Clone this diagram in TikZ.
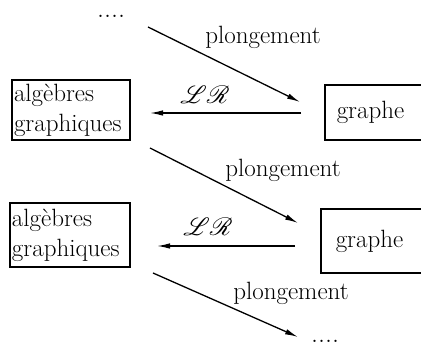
\documentclass[tikz,border=0pt]{standalone}
\usepackage{fontspec}
\usepackage{mathrsfs}
\usetikzlibrary{arrows.meta}
\newcommand\espace{\addfontfeatures{LetterSpace=6}}

\begin{document}
\begin{tikzpicture}[x = 1pt, y = -1pt,
                    font = \fontsize{25}{30}\selectfont\espace,
                    boite/.style = {draw, line width = 1.5pt, align = left, inner xsep = 2pt, inner ysep = 2pt},
                    fleche/.style = {line width = 1.3pt, -{Latex[length = 13pt, width = 5.5pt]}},
                    etiq/.style = {inner sep = 0pt}]
      \clip (0, 0) rectangle (421, 347);

      \node [etiq, font = \fontsize{28}{30}\selectfont\espace] (debut) at (111, 16) {....};
      \node [etiq, font = \fontsize{28}{30}\selectfont\espace] (fin) at (325, 341) {....};

      \node [boite, minimum width = 118, minimum height = 60, text width = 114] (alg1) at (71, 110) {algèbres\\graphiques};
      \node [boite, minimum width = 120, minimum height = 64, text width = 116] (alg2) at (70, 235) {algèbres\\graphiques};

      \node [boite, anchor = west, minimum height = 55, text width = 120, inner xsep = 12pt] (gr1) at (324, 112.5) {graphe};
      \node [boite, anchor = west, minimum height = 64, text width = 120, inner xsep = 15pt] (gr2) at (320, 241) {graphe};

      \coordinate (p1s) at (148, 27);
      \coordinate (p1e) at (300, 102);
      \coordinate (lr1s) at (301, 113);
      \coordinate (lr1e) at (150, 113);
      \coordinate (p2s) at (150, 148);
      \coordinate (p2e) at (298, 223);
      \coordinate (lr2s) at (295, 246);
      \coordinate (lr2e) at (157, 246);
      \coordinate (p3s) at (153, 273);
      \coordinate (p3e) at (298, 337);

      \draw [fleche] (p1s) -- (p1e);
      \draw [fleche] (lr1s) -- (lr1e);
      \draw [fleche] (p2s) -- (p2e);
      \draw [fleche] (lr2s) -- (lr2e);
      \draw [fleche] (p3s) -- (p3e);

      \node [etiq] (pl1) at (263, 37) {plongement};
      \node [etiq] (pl2) at (283, 170) {plongement};
      \node [etiq] (pl3) at (291, 293) {plongement};
      \node [etiq, font = \fontsize{28}{30}\selectfont] (lr1) at (205, 95) {$\mathscr{LR}$};
      \node [etiq, font = \fontsize{28}{30}\selectfont] (lr2) at (208, 227) {$\mathscr{LR}$};
\end{tikzpicture}
\end{document}
